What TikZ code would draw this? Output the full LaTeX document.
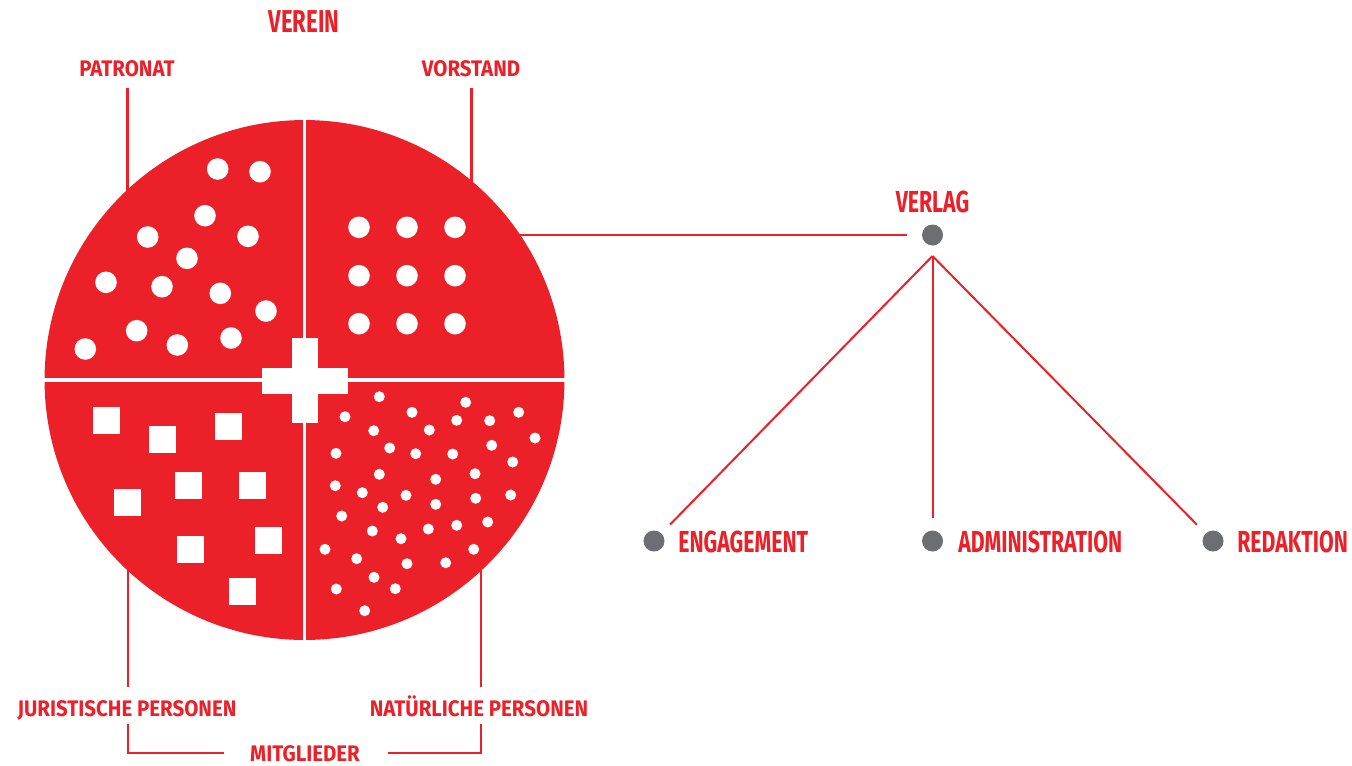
\documentclass[tikz,border=0pt]{standalone}
\usepackage{fontspec}
\setmainfont{Fira Sans}[FakeStretch=0.7]
\newfontfamily\widerfam{Fira Sans}[FakeStretch=0.91]
\definecolor{vred}{HTML}{EC2029}
\definecolor{vgray}{HTML}{6D6E71}
\begin{document}
\begin{tikzpicture}[x=0.02cm,y=-0.02cm,
  lab/.style={text=vred, inner sep=0pt, anchor=base},
  huge/.style={font=\bfseries\fontsize{18}{20}\selectfont},
  big/.style={font=\bfseries\fontsize{17.3}{20}\selectfont},
  small/.style={font=\widerfam\bfseries\fontsize{12.8}{15}\selectfont},
  conn/.style={draw=vred, line width=1.15pt},
  gdot/.style={circle, fill=vgray, inner sep=0pt, minimum size=0.42cm},
  wdot/.style={white},
  gap/.style={draw=white, line width=1.9pt}]
\useasboundingbox (0,0) rectangle (1352,765);

% ---- connector end points ----
\coordinate (patTop) at (127.5,88);
\coordinate (patBot) at (127.5,195);
\coordinate (vorTop) at (471.5,88);
\coordinate (vorBot) at (471.5,186);
\coordinate (jurTop) at (128,565);
\coordinate (jurBot) at (128,687);
\coordinate (natTop) at (481,565);
\coordinate (natBot) at (481,687);
\coordinate (mL) at (128,724);
\coordinate (mLe) at (224,753);
\coordinate (mR) at (481,724);
\coordinate (mRe) at (388,753);
\coordinate (vleft) at (515,235);
\coordinate (apex) at (932.5,256);

% ---- labels ----
\node[lab,huge] (verein) at (304,32) {VEREIN};
\node[lab,small] (patronat) at (127,76.5) {PATRONAT};
\node[lab,small] (vorstand) at (471,76.5) {VORSTAND};
\node[lab,small] (jur) at (127,716) {JURISTISCHE PERSONEN};
\node[lab,small] (nat) at (479,716) {NATÜRLICHE PERSONEN};
\node[lab,small] (mit) at (305,761) {MITGLIEDER};
\node[lab,big] (verlagtxt) at (932.5,212) {VERLAG};
\node[lab,big,anchor=base west] (engtxt) at (678,552) {ENGAGEMENT};
\node[lab,big,anchor=base west] (admtxt) at (958,552) {ADMINISTRATION};
\node[lab,big,anchor=base west] (redtxt) at (1237,552) {REDAKTION};

% ---- grey dots ----
\node[gdot, outer sep=0.31cm] (verlag) at (932.5,235) {};
\node[gdot, outer sep=0.25cm] (eng) at (654,541) {};
\node[gdot, outer sep=0.25cm] (adm) at (932.5,541) {};
\node[gdot, outer sep=0.25cm] (red) at (1213,541) {};

% ---- connectors ----
\draw[conn] (patTop) -- (patBot);
\draw[conn] (vorTop) -- (vorBot);
\draw[conn] (jurTop) -- (jurBot);
\draw[conn] (natTop) -- (natBot);
\draw[conn] (mL) |- (mLe);
\draw[conn] (mR) |- (mRe);
\draw[conn] (vleft) -- (verlag);
\draw[conn] (apex) -- (eng);
\draw[conn] (apex) -- (adm);
\draw[conn] (apex) -- (red);

% ---- big circle ----
\fill[vred] (304.5,380) circle[radius=5.2cm];
\draw[gap] (304.5,110) -- (304.5,650);
\draw[gap] (34,380) -- (575,380);
\fill[white] (292,338) rectangle (318,423);
\fill[white] (262,368) rectangle (348,394);

% top-left: large dots
\foreach \x/\y in {217.7/169, 260/171.7, 205/215.7, 147.7/237, 248/236.3,
  187/258.3, 106/282.3, 162/286.7, 220.3/293.3, 266/311, 136.7/330.7,
  177.3/345, 231/338, 85.3/349}
  \fill[wdot] (\x,\y) circle[radius=0.216cm];

% top-right: grid of dots
\foreach \x in {359,407,455}
  \foreach \y in {227.3,275.7,323.7}
    \fill[wdot] (\x,\y) circle[radius=0.216cm];

% bottom-left: squares
\foreach \x/\y in {93/407, 149/426, 215/413, 114/489, 175/472, 239/472,
  177/536, 255/527, 229/578}
  \fill[wdot] (\x,\y) rectangle ++(27,27);

% bottom-right: small dots
\foreach \x/\y in {379.3/396.7, 465.7/402.3, 345/416.7, 412/412.3, 456.7/420.3,
  489.7/420.7, 518.7/412.3, 373.7/430.7, 429.3/430, 535/438, 336/453.3,
  389.7/448, 415.7/453.7, 452.7/454, 491.7/445.3, 512.7/462, 379.3/474.3,
  435.7/479.3, 475/473.7, 335.3/485.7, 362.3/492.7, 406/495.3, 435.7/504.3,
  475.7/498.3, 510.7/495, 382.7/507.3, 341.7/516, 372.3/531, 428.3/529,
  456.7/525.3, 487.7/522, 401/538.7, 325/549.3, 356.7/558.7, 407/563.7,
  445.7/562.7, 473.7/549.3, 374/577.3, 336.3/589, 395.3/588.7, 364.7/610.7}
  \fill[wdot] (\x,\y) circle[radius=0.11cm];
\end{tikzpicture}
\end{document}
